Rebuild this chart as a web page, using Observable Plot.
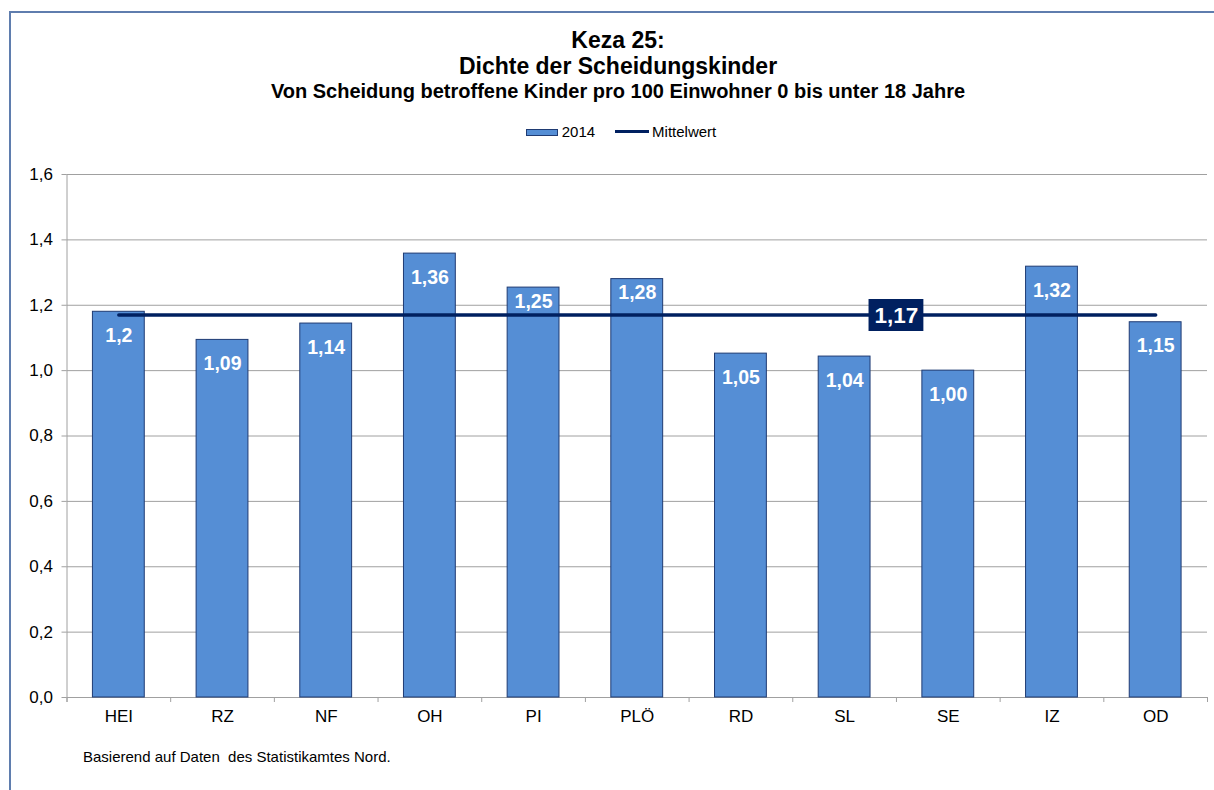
<!DOCTYPE html>
<html>
<head>
<meta charset="utf-8">
<script src="https://cdn.jsdelivr.net/npm/d3@7"></script>
<script src="https://cdn.jsdelivr.net/npm/@observablehq/plot@0.6"></script>
<style>
  body { margin: 0; background: #fff; font-family: "Liberation Sans", Arial, sans-serif; }
  #wrap { position: relative; width: 1214px; height: 790px; overflow: hidden; }
  #frame { position: absolute; left: 9px; top: 11px; width: 1300px; height: 900px;
           border-left: 2px solid #5F7DAE; border-top: 2px solid #5F7DAE; }
  .t { position: absolute; left: 118px; width: 1000px; text-align: center; font-weight: bold; color: #000; line-height: 1; }
  #legend { position: absolute; top: 124px; left: 421px; width: 400px; display: flex; justify-content: center;
            align-items: center; font-size: 15px; color: #000; line-height: 1; }
  #legend .sw { display: inline-block; width: 30px; height: 5px; background: #558ED5; border: 1px solid #1F3B73; margin-right: 4px; margin-top: 2px; }
  #legend .ln { display: inline-block; width: 34px; height: 3px; background: #002060; margin-left: 20px; margin-right: 3px; }
  #chart { position: absolute; left: 0; top: 150px; }
  #caption { position: absolute; left: 83px; top: 749px; font-size: 15px; color: #000; line-height: 1; }
</style>
</head>
<body>
<div id="wrap">
  <div id="frame"></div>
  <div class="t" style="top:29px;font-size:23px;">Keza 25:</div>
  <div class="t" style="top:55px;font-size:23px;">Dichte der Scheidungskinder</div>
  <div class="t" style="top:81px;font-size:20px;">Von Scheidung betroffene Kinder pro 100 Einwohner 0 bis unter 18 Jahre</div>
  <div id="legend"><span class="sw"></span><span>2014</span><span class="ln"></span><span>Mittelwert</span></div>
  <div id="chart"></div>
  <div id="caption">Basierend auf Daten&nbsp; des Statistikamtes Nord.</div>
</div>
<script>
const categories = ["HEI", "RZ", "NF", "OH", "PI", "PLÖ", "RD", "SL", "SE", "IZ", "OD"];
const values2014 = [1.18, 1.094, 1.144, 1.358, 1.254, 1.28, 1.052, 1.043, 1.00, 1.318, 1.148];
const valueLabels = ["1,2", "1,09", "1,14", "1,36", "1,25", "1,28", "1,05", "1,04", "1,00", "1,32", "1,15"];
const meanValue = 1.17;
const meanLabel = "1,17";
const yTicks = [0, 0.2, 0.4, 0.6, 0.8, 1.0, 1.2, 1.4, 1.6];

const data = categories.map((c, i) => ({cat: c, value: values2014[i], label: valueLabels[i]}));
const meanData = categories.map(c => ({cat: c, y: meanValue}));

const W = 1214, H = 590, mL = 66.5, mR = 7, mT = 24, mB = 43;
const step = (W - mL - mR) / categories.length; // paddingInner .5, paddingOuter .25
const pxPerUnit = (H - mT - mB) / 1.6;
const tickLen = 5 / pxPerUnit;
const nearMean = d => d.value - meanValue > 0.05 && d.value - meanValue < 0.12;
const font = "Liberation Sans, Arial, sans-serif";

const chart = Plot.plot({
  width: W, height: H,
  marginLeft: mL, marginRight: mR, marginTop: mT, marginBottom: mB,
  style: {fontFamily: font, fontSize: "17px", background: "transparent", color: "#000"},
  x: {domain: categories, paddingInner: 0.5, paddingOuter: 0.25, round: false, label: null},
  y: {domain: [0, 1.6], label: null},
  marks: [
    Plot.ruleY(yTicks, {stroke: "#A0A0A0", strokeWidth: 1}),
    Plot.ruleX([categories[0]], {dx: -step / 2, y1: -tickLen, y2: 1.6, stroke: "#A0A0A0"}),
    Plot.ruleX(categories, {dx: -step / 2, y1: -tickLen, y2: 0, stroke: "#A0A0A0"}),
    Plot.ruleX([categories[categories.length - 1]], {dx: step / 2, y1: -tickLen, y2: 0, stroke: "#A0A0A0"}),
    Plot.axisY({ticks: yTicks, tickSize: 5, tickPadding: 9, stroke: "#A0A0A0", fill: "#000", fontSize: 17,
      tickFormat: d => d.toFixed(1).replace(".", ","), label: null}),
    Plot.axisX({tickSize: 0, tickPadding: 12, fontSize: 17, fill: "#000", label: null}),
    Plot.barY(data, {x: "cat", y: "value", fill: "#558ED5", stroke: "#1F3B73", strokeWidth: 1}),
    Plot.line(meanData, {x: "cat", y: "y", stroke: "#002060", strokeWidth: 3.5}),
    Plot.text(data.filter(d => !nearMean(d)), {x: "cat", y: "value", text: "label", dy: 24,
      fill: "#fff", fontSize: 19.5, fontWeight: "bold"}),
    Plot.text(data.filter(nearMean), {x: "cat", y: "value", text: "label", dy: 14,
      fill: "#fff", fontSize: 19.5, fontWeight: "bold"}),
    Plot.tickY([{cat: "SE", y: meanValue}], {x: "cat", y: "y", dx: -step / 2, insetLeft: -1.5, insetRight: -1.5,
      stroke: "#002060", strokeWidth: 32, strokeLinecap: "butt"}),
    Plot.text([{cat: "SE", y: meanValue}], {x: "cat", y: "y", dx: -step / 2, dy: 1, text: () => meanLabel,
      fill: "#fff", fontSize: 22.5, fontWeight: "bold"})
  ]
});
document.getElementById("chart").appendChild(chart);
</script>
</body>
</html>
